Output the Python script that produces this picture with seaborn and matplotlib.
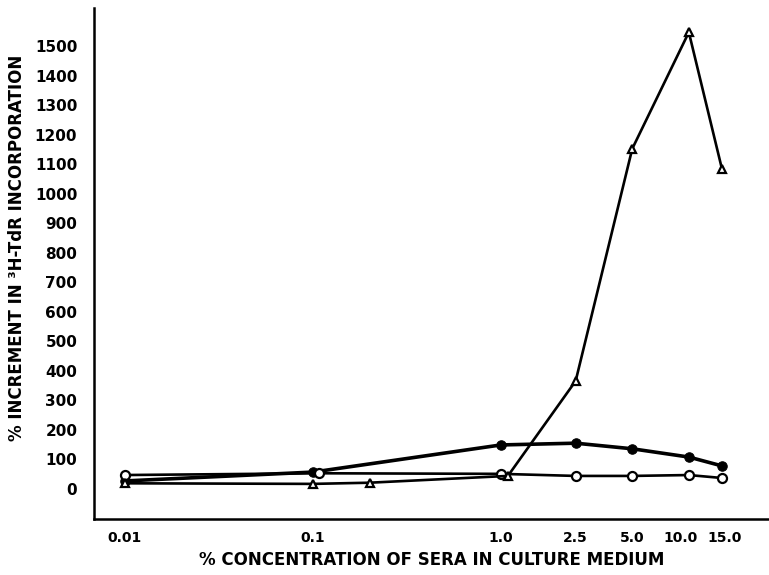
import matplotlib
matplotlib.use("Agg")
import matplotlib.pyplot as plt
import matplotlib.transforms as mtransforms
import seaborn as sns
import numpy as np
import pandas as pd

# Data
filled_x = [0.01, 0.1, 1.0, 2.5, 5.0, 10.0, 15.0]
filled_y = [27, 57, 149, 155, 136, 108, 78]

open_x = [0.01, 0.108, 1.0, 2.5, 5.0, 10.0, 15.0]
open_y = [47, 53, 51, 44, 44, 47, 37]

tri_x = [0.01, 0.1, 0.2, 1.09, 2.5, 5.0, 10.0, 15.0]
tri_y = [19, 17, 21, 44, 366, 1153, 1548, 1085]

xticks = [0.01, 0.1, 1.0, 2.5, 5.0, 10.0, 15.0]
xtick_labels = ["0.01", "0.1", "1.0", "2.5", "5.0", "10.0", "15.0"]
yticks = list(range(0, 1600, 100))

sns.set_style("white")
plt.rcParams['font.family'] = ['DejaVu Sans']

fig = plt.figure(figsize=(7.69, 5.75), dpi=100)
ax = fig.add_axes([0.1222, 0.0974, 0.8778, 0.8886])

sns.lineplot(x=filled_x, y=filled_y, ax=ax, color='black', lw=2.6,
             marker='o', markersize=6.8, markerfacecolor='black',
             markeredgecolor='black', sort=False)
sns.lineplot(x=open_x, y=open_y, ax=ax, color='black', lw=1.9,
             marker='o', markersize=6.5, markerfacecolor='white',
             markeredgecolor='black', markeredgewidth=1.6, sort=False)
sns.lineplot(x=tri_x, y=tri_y, ax=ax, color='black', lw=1.9,
             marker='^', markersize=6.2, markerfacecolor='white',
             markeredgecolor='black', markeredgewidth=1.6, sort=False)

ax.set_xscale('log')
ax.set_xlim(0.00684, 26.7)
ax.set_ylim(-102, 1630)
ax.set_xticks(xticks)
ax.set_xticklabels(xtick_labels)
ax.minorticks_off()
ax.set_yticks(yticks)
ax.set_yticklabels([str(v) for v in yticks])

for s in ['top', 'right']:
    ax.spines[s].set_visible(False)
for s in ['left', 'bottom']:
    ax.spines[s].set_linewidth(1.8)
    ax.spines[s].set_color('black')

ax.tick_params(axis='y', direction='in', length=9.5, width=1.6, pad=12,
               labelsize=11, colors='black')
ax.tick_params(axis='x', direction='in', length=8, width=1.6, pad=9,
               labelsize=10, colors='black')
for lab in ax.get_xticklabels() + ax.get_yticklabels():
    lab.set_fontweight('bold')

# nudge the crowded "10.0" / "15.0" labels apart, as in the reference
xl = ax.get_xticklabels()
xl[5].set_transform(xl[5].get_transform() +
                    mtransforms.ScaledTranslation(-6 / 72, 0, fig.dpi_scale_trans))
xl[6].set_transform(xl[6].get_transform() +
                    mtransforms.ScaledTranslation(2 / 72, 0, fig.dpi_scale_trans))

ax.set_xlabel('% CONCENTRATION OF SERA IN CULTURE MEDIUM', fontsize=12,
              fontweight='bold', labelpad=4, color='black')
ax.set_ylabel('% INCREMENT IN ³H-TdR INCORPORATION', fontsize=12,
              fontweight='bold', color='black')
ax.yaxis.set_label_coords(-0.1, 0.53)

fig.savefig('out.png', dpi=100)
